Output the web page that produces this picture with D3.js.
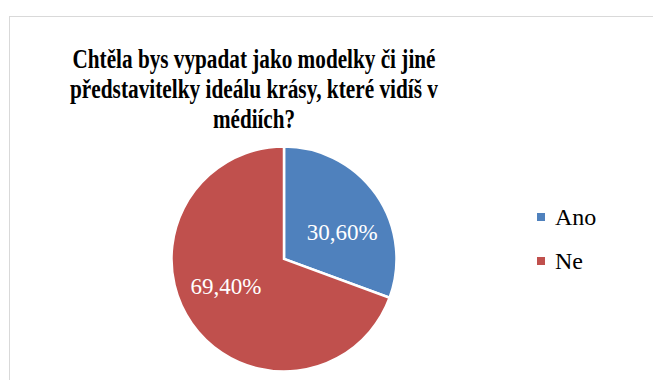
<!DOCTYPE html>
<html>
<head>
<meta charset="utf-8">
<script src="https://cdn.jsdelivr.net/npm/d3@7"></script>
<style>
  body { margin: 0; background: #fff; }
  svg { display: block; }
  .serif { font-family: "Liberation Serif", "Times New Roman", Times, serif; }
</style>
</head>
<body>
<div class="chart"></div>
<script>
// data
var categories = ["Ano", "Ne"];
var values = [30.6, 69.4];
var valueLabels = ["30,60%", "69,40%"];
var colors = ["#4f81bd", "#c0504d"];
var titleLines = ["Chtěla bys vypadat jako modelky či jiné",
                  "představitelky ideálu krásy, které vidíš v",
                  "médiích?"];

var width = 653, height = 380;

var svg = d3.select(".chart")
  .append("svg")
  .attr("width", width)
  .attr("height", height);

// chart frame (runs off the right / bottom of the picture)
svg.append("rect")
  .attr("x", 9.5)
  .attr("y", 16.5)
  .attr("width", 700)
  .attr("height", 400)
  .attr("fill", "#fff")
  .attr("stroke", "#d9d9d9")
  .attr("stroke-width", 1);

// title, the original is a condensed bold serif
var titleWidths = [363, 368, 82];
svg.append("g")
  .selectAll("text")
  .data(titleLines)
  .enter()
  .append("text")
  .attr("class", "serif")
  .attr("x", 254)
  .attr("y", function(d, i) { return 68 + i * 30; })
  .attr("text-anchor", "middle")
  .attr("textLength", function(d, i) { return titleWidths[i]; })
  .attr("lengthAdjust", "spacingAndGlyphs")
  .attr("font-weight", "bold")
  .attr("font-size", 27)
  .attr("fill", "#000")
  .text(function(d) { return d; });

// pie
var cx = 284, cy = 259, r = 112.5;

var pie = d3.pie().sort(null).value(function(d) { return d; });
var arcs = pie(values);

var arc = d3.arc().innerRadius(0).outerRadius(r);

var pieGroup = svg.append("g")
  .attr("transform", "translate(" + cx + "," + cy + ")");

pieGroup.selectAll(".slice")
  .data(arcs)
  .enter()
  .append("path")
  .attr("class", "slice")
  .attr("d", arc)
  .attr("fill", function(d, i) { return colors[i]; })
  .attr("stroke", "#fff")
  .attr("stroke-width", 2.5)
  .attr("stroke-linejoin", "miter");

// labels sit a little clockwise of the slice middle, like excel "best fit"
function labelPos(d) {
  var a = (d.startAngle + d.endAngle) / 2 + 10 * Math.PI / 180;
  var lr = r * 0.57;
  return [Math.sin(a) * lr, -Math.cos(a) * lr];
}

pieGroup.selectAll(".lbl")
  .data(arcs)
  .enter()
  .append("text")
  .attr("class", "lbl serif")
  .attr("transform", function(d) { return "translate(" + labelPos(d) + ")"; })
  .attr("dy", "0.35em")
  .attr("text-anchor", "middle")
  .attr("font-size", 23)
  .attr("fill", "#fff")
  .text(function(d, i) { return valueLabels[i]; });

// legend
var legend = svg.append("g")
  .attr("transform", "translate(537,213)");

var item = legend.selectAll(".item")
  .data(categories)
  .enter()
  .append("g")
  .attr("class", "item")
  .attr("transform", function(d, i) { return "translate(0," + i * 44 + ")"; });

item.append("rect")
  .attr("width", 8)
  .attr("height", 8)
  .attr("fill", function(d, i) { return colors[i]; });

item.append("text")
  .attr("class", "serif")
  .attr("x", 18)
  .attr("y", 12)
  .attr("font-size", 24)
  .attr("fill", "#000")
  .text(function(d) { return d; });
</script>
</body>
</html>
